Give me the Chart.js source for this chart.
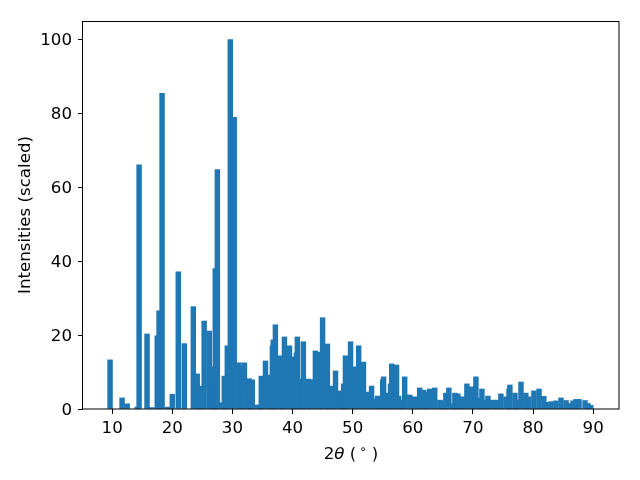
<!DOCTYPE html>
<html><head><meta charset="utf-8">
<script src="https://cdn.jsdelivr.net/npm/chart.js@4/dist/chart.umd.min.js"></script>
<style>html,body{margin:0;padding:0;background:#fff}canvas{display:block}</style>
</head><body>
<canvas id="c" width="640" height="480"></canvas>
<script>
// 2θ positions (degrees) of each bar
const twoTheta = [
  9.65, 11.65, 12.5, 14.15, 14.48, 15.8, 16.6, 17.5, 17.8, 18.3,
  19.15, 19.5, 20.0, 21.0, 22.0, 23.5, 24.15, 24.5, 24.65, 25.3,
  26.15, 26.65, 27.0, 27.15, 27.5, 28.3, 28.65, 29.15, 29.65, 30.3,
  31.1, 31.65, 32.0, 32.8, 33.0, 33.3, 34.1, 34.65, 34.8, 35.5,
  36.3, 36.65, 36.8, 37.15, 38.0, 38.3, 38.65, 39.5, 40.15, 40.65,
  40.8, 41.65, 41.8, 42.65, 43.0, 43.8, 44.65, 45.0, 45.8, 46.0,
  46.65, 47.15, 48.0, 48.3, 48.5, 48.8, 49.65, 50.3, 51.0, 51.8,
  52.5, 53.15, 53.8, 54.15, 54.8, 55.0, 55.15, 56.0, 56.3, 56.5,
  57.3, 57.65, 58.3, 58.65, 59.5, 60.3, 61.15, 61.8, 62.3, 62.8,
  63.65, 64.5, 65.15, 65.5, 66.0, 66.8, 67.0, 67.5, 68.0, 68.3,
  69.0, 69.8, 70.5, 71.3, 71.5, 72.3, 72.5, 73.3, 74.0, 74.65,
  75.5, 76.0, 76.15, 77.0, 77.3, 78.0, 78.8, 79.3, 80.15, 81.0,
  81.8, 82.5, 83.0, 83.8, 84.65, 85.5, 86.15, 86.65, 87.15, 87.65,
  88.65, 89.15, 89.6
];
// scaled intensities of each bar
const intensity = [
  13.3, 3.0, 1.4, 0.5, 66.1, 20.3, 0.4, 19.8, 26.6, 85.4,
  0.5, 0.3, 4.0, 37.1, 17.7, 27.7, 9.5, 0.5, 6.2, 23.8,
  21.1, 11.4, 6.8, 38.0, 64.8, 1.7, 8.9, 17.1, 100, 78.9,
  12.5, 11.7, 12.5, 8.2, 6.2, 7.9, 1.1, 0.8, 8.9, 13.0,
  9.2, 17.1, 18.7, 22.8, 14.4, 10.8, 19.5, 17.1, 14.1, 15.2,
  19.5, 8.1, 18.2, 8.1, 7.9, 15.7, 15.4, 24.7, 17.6, 5.1,
  6.2, 10.3, 4.9, 3.3, 6.8, 14.4, 18.2, 11.4, 17.1, 12.7,
  4.6, 6.2, 2.7, 3.5, 1.9, 7.9, 8.7, 4.3, 6.8, 12.2,
  11.9, 3.5, 2.4, 8.7, 3.8, 3.3, 5.7, 5.1, 4.6, 5.4,
  5.7, 2.4, 2.2, 4.3, 5.7, 1.4, 4.3, 4.1, 3.0, 3.3,
  6.8, 6.0, 8.7, 3.0, 5.4, 2.4, 3.5, 2.4, 2.4, 4.1,
  3.3, 5.4, 6.5, 4.3, 2.4, 7.3, 4.3, 3.3, 4.9, 5.4,
  3.4, 1.8, 2.0, 2.2, 3.0, 2.3, 1.5, 2.2, 2.6, 2.6,
  2.3, 1.5, 1.0
];
const xTickValues = [10, 20, 30, 40, 50, 60, 70, 80, 90];
const yTickValues = [0, 20, 40, 60, 80, 100];
const yAxisTitle = 'Intensities (scaled)';
const xAxisTitleParts = ['2', 'θ', ' (', '∘', ' )'];

const FONT = 'DejaVu Sans';
const FS = 16.67;

const framePlugin = {
  id: 'frame',
  afterDraw(chart) {
    const {ctx, chartArea: a} = chart;
    ctx.save();
    ctx.strokeStyle = '#000';
    ctx.lineWidth = 1;
    ctx.strokeRect(Math.round(a.left) - 0.5, Math.round(a.top) + 0.5,
                   Math.round(a.right - a.left) + 0.5, Math.round(a.bottom - a.top) - 0.5);
    // x axis title with math-style parts
    const fonts = [
      FS + 'px "' + FONT + '"',
      'italic ' + FS + 'px "' + FONT + '"',
      FS + 'px "' + FONT + '"',
      (FS * 0.7) + 'px "' + FONT + '"',
      FS + 'px "' + FONT + '"'
    ];
    const gaps = [0, 0, 0, 3, 0];
    const widths = xAxisTitleParts.map((t, i) => { ctx.font = fonts[i]; return ctx.measureText(t).width + gaps[i]; });
    const total = widths.reduce((s, w) => s + w, 0);
    let x = (a.left + a.right) / 2 - total / 2;
    const base = 459;
    ctx.fillStyle = '#000';
    ctx.textBaseline = 'alphabetic';
    ctx.textAlign = 'left';
    xAxisTitleParts.forEach((t, i) => {
      ctx.font = fonts[i];
      ctx.fillText(t, x + gaps[i], i === 3 ? base - 6 : base);
      x += widths[i];
    });
    ctx.restore();
  }
};

new Chart(document.getElementById('c').getContext('2d'), {
  type: 'bar',
  data: {
    datasets: [{
      data: twoTheta.map((x, i) => ({x: x, y: intensity[i]})),
      backgroundColor: '#1f77b4',
      borderWidth: 0,
      barThickness: 4.8
    }]
  },
  options: {
    responsive: false,
    animation: false,
    devicePixelRatio: 1,
    layout: {padding: {top: 21, right: 21, left: 0, bottom: 0}},
    plugins: {legend: {display: false}, tooltip: {enabled: false}},
    scales: {
      x: {
        type: 'linear', min: 5.15, max: 94.3, offset: false,
        grid: {display: true, drawOnChartArea: false, drawTicks: true, tickLength: 5, color: '#000', offset: false},
        border: {display: false},
        ticks: {font: {family: FONT, size: FS}, color: '#000', padding: 5, maxRotation: 0, autoSkip: false},
        afterBuildTicks: s => { s.ticks = xTickValues.map(v => ({value: v})); },
        afterFit: s => { s.height = 71; },
        title: {display: false}
      },
      y: {
        min: 0, max: 105,
        grid: {display: true, drawOnChartArea: false, drawTicks: true, tickLength: 5, color: '#000'},
        border: {display: false},
        ticks: {font: {family: FONT, size: FS}, color: '#000', padding: 6, labelOffset: 1.5},
        afterBuildTicks: s => { s.ticks = yTickValues.map(v => ({value: v})); },
        afterFit: s => { s.width = 83; },
        title: {display: true, text: yAxisTitle, color: '#000', font: {family: FONT, size: FS}, padding: {top: 15.5, bottom: 0}}
      }
    }
  },
  plugins: [framePlugin]
});
</script>
</body></html>
